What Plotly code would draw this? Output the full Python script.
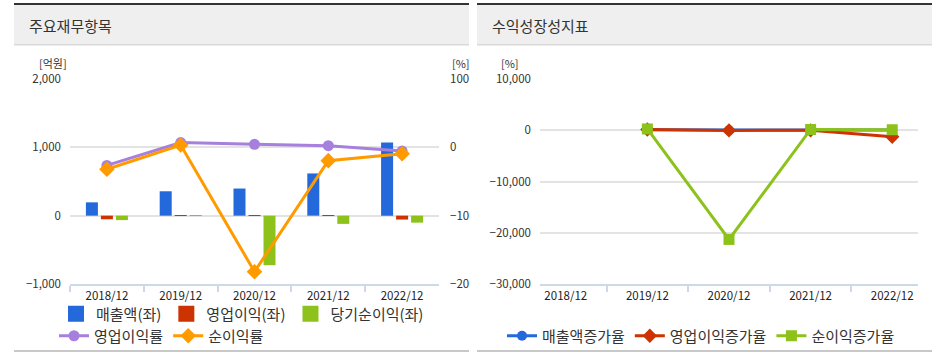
import plotly.graph_objects as go

W, H = 943, 361

# ---------------- data ----------------
years = ["2018/12", "2019/12", "2020/12", "2021/12", "2022/12"]
sales = [195, 357, 397, 618, 1069]            # 매출액 (억원)
op_income = [-53, 8, 6, 2, -57]               # 영업이익 (억원)
net_income = [-65, 3, -725, -120, -102]       # 당기순이익 (억원)
op_margin = [-26.5, 6.9, 4.4, 2.5, -5.4]      # 영업이익률 (%)
net_margin = [-32.0, 3.4, -182.0, -19.5, -9.3]  # 순이익률 (%)

sales_growth = [None, 83, 11, 56, 73]          # 매출액증가율 (%)
op_growth = [None, 150, -32, -12, -1290]       # 영업이익증가율 (%)
net_growth = [None, 250, -21300, 150, 100]     # 순이익증가율 (%)

C_BLUE = "#2469dc"
C_RED = "#cc3300"
C_GREEN = "#8cc21a"
C_PURPLE = "#a77fdd"
C_ORANGE = "#ff9a00"
TXT = "#333333"
FONT = "Noto Sans CJK KR"


def px_x(p):
    return p / W


def px_y(p):
    return 1 - p / H


fig = go.Figure()

# ---------------- left chart: bars ----------------
for name, vals, col in [("매출액(좌)", sales, C_BLUE),
                        ("영업이익(좌)", op_income, C_RED),
                        ("당기순이익(좌)", net_income, C_GREEN)]:
    fig.add_trace(go.Bar(x=years, y=vals, name=name, marker_color=col,
                         marker_line_width=0, xaxis="x", yaxis="y",
                         showlegend=False))
    # legend entry with a larger square symbol
    fig.add_trace(go.Scatter(x=[None], y=[None], mode="markers", name=name,
                             marker=dict(symbol="square", size=16, color=col),
                             xaxis="x", yaxis="y", legend="legend"))

# ---------------- left chart: margin lines ----------------
fig.add_trace(go.Scatter(x=years, y=op_margin, name="영업이익률", mode="lines+markers",
                         line=dict(color=C_PURPLE, width=3),
                         marker=dict(symbol="circle", size=11, color=C_PURPLE),
                         xaxis="x", yaxis="y2", legend="legend2"))
fig.add_trace(go.Scatter(x=years, y=net_margin, name="순이익률", mode="lines+markers",
                         line=dict(color=C_ORANGE, width=3),
                         marker=dict(symbol="diamond", size=12, color=C_ORANGE),
                         xaxis="x", yaxis="y2", legend="legend2"))

# ---------------- right chart: growth lines ----------------
fig.add_trace(go.Scatter(x=years, y=sales_growth, name="매출액증가율", mode="lines+markers",
                         line=dict(color=C_BLUE, width=3),
                         marker=dict(symbol="circle", size=10, color=C_BLUE),
                         xaxis="x2", yaxis="y3", legend="legend3"))
fig.add_trace(go.Scatter(x=years, y=op_growth, name="영업이익증가율", mode="lines+markers",
                         line=dict(color=C_RED, width=3),
                         marker=dict(symbol="diamond", size=11, color=C_RED),
                         xaxis="x2", yaxis="y3", legend="legend3"))
fig.add_trace(go.Scatter(x=years, y=net_growth, name="순이익증가율", mode="lines+markers",
                         line=dict(color=C_GREEN, width=3),
                         marker=dict(symbol="square", size=11, color=C_GREEN),
                         xaxis="x2", yaxis="y3", legend="legend3"))

ydom = [px_y(284), px_y(79)]
tickfont = dict(family=FONT, size=11.5, color=TXT)
xcommon = dict(type="category", showgrid=False, showline=True, linecolor="#cdd8e8",
               linewidth=2, ticks="outside", tickson="boundaries", ticklen=6,
               tickcolor="#cdd8e8", tickwidth=2,
               tickfont=dict(family=FONT, size=11.5, color="#222"),
               fixedrange=True, automargin=False)

fig.update_layout(
    template="none",
    width=W, height=H, autosize=False,
    margin=dict(l=0, r=0, t=0, b=0, pad=0, autoexpand=False),
    paper_bgcolor="white", plot_bgcolor="white",
    font=dict(family=FONT, color=TXT),
    barmode="group", bargap=0.39, bargroupgap=0.2,
    xaxis=dict(domain=[px_x(70), px_x(439)], anchor="y", **xcommon),
    yaxis=dict(domain=ydom, range=[-1000, 2000], dtick=1000, tickformat=",",
               showgrid=True, gridcolor="#e3e3e3", gridwidth=2, zeroline=False,
               showline=False, ticks="", tickfont=tickfont, ticklabelstandoff=8,
               automargin=False, fixedrange=True),
    yaxis2=dict(overlaying="y", side="right", anchor="x", range=[-200, 100], dtick=100,
                showgrid=False, zeroline=False, showline=False, ticks="",
                tickfont=tickfont, ticklabelstandoff=10, automargin=False, fixedrange=True),
    xaxis2=dict(domain=[px_x(540), px_x(918)], anchor="y3", **xcommon),
    yaxis3=dict(domain=ydom, anchor="x2", range=[-30000, 10000], dtick=10000,
                tickformat=",", showgrid=True, gridcolor="#e3e3e3", gridwidth=2,
                zeroline=False, showline=False, ticks="", tickfont=tickfont,
                ticklabelstandoff=8, automargin=False, fixedrange=True),
    legend=dict(orientation="h", x=px_x(56), xanchor="left", y=px_y(314), yanchor="middle",
                font=dict(family=FONT, size=15, color=TXT), bgcolor="rgba(0,0,0,0)",
                itemclick=False, itemdoubleclick=False, traceorder="normal"),
    legend2=dict(orientation="h", x=px_x(54), xanchor="left", y=px_y(336), yanchor="middle",
                 font=dict(family=FONT, size=15, color=TXT), bgcolor="rgba(0,0,0,0)",
                 itemclick=False, itemdoubleclick=False, traceorder="normal"),
    legend3=dict(orientation="h", x=px_x(502), xanchor="left", y=px_y(336), yanchor="middle",
                 font=dict(family=FONT, size=15, color=TXT), bgcolor="rgba(0,0,0,0)",
                 itemclick=False, itemdoubleclick=False, traceorder="normal"),
)

shapes = []
for x0, x1 in [(14, 469), (477, 932)]:
    # header band
    shapes.append(dict(type="rect", xref="paper", yref="paper", x0=px_x(x0), x1=px_x(x1),
                       y0=px_y(44), y1=px_y(5), fillcolor="#efefef", line_width=0, layer="below"))
    # dark top strip
    shapes.append(dict(type="rect", xref="paper", yref="paper", x0=px_x(x0), x1=px_x(x1),
                       y0=px_y(5), y1=px_y(3), fillcolor="#333333", line_width=0, layer="below"))
    # header bottom border
    shapes.append(dict(type="rect", xref="paper", yref="paper", x0=px_x(x0), x1=px_x(x1),
                       y0=px_y(45.5), y1=px_y(44), fillcolor="#d9d9d9", line_width=0, layer="below"))
    # bottom gray line
    shapes.append(dict(type="rect", xref="paper", yref="paper", x0=px_x(x0), x1=px_x(x1),
                       y0=px_y(352), y1=px_y(350), fillcolor="#c8c8c8", line_width=0, layer="below"))
# clip strip between panels (cuts right-axis labels of left chart)
shapes.append(dict(type="rect", xref="paper", yref="paper", x0=px_x(469.5), x1=px_x(476.5),
                   y0=px_y(300), y1=px_y(50), fillcolor="white", line_width=0, layer="above"))
fig.update_layout(shapes=shapes)

annotations = [
    dict(text="주요재무항목", x=px_x(28), y=px_y(26), xanchor="left", yanchor="middle",
         font=dict(family=FONT, size=15, color=TXT)),
    dict(text="수익성장성지표", x=px_x(491), y=px_y(26), xanchor="left", yanchor="middle",
         font=dict(family=FONT, size=15, color=TXT)),
    dict(text="[억원]", x=px_x(53), y=px_y(63.5), xanchor="center", yanchor="middle",
         font=dict(family=FONT, size=11, color=TXT)),
    dict(text="[%]", x=px_x(451), y=px_y(63), xanchor="left", yanchor="middle",
         font=dict(family=FONT, size=11, color=TXT)),
    dict(text="[%]", x=px_x(510), y=px_y(63), xanchor="center", yanchor="middle",
         font=dict(family=FONT, size=11, color=TXT)),
]
for a in annotations:
    a.update(xref="paper", yref="paper", showarrow=False, borderpad=0)
fig.update_layout(annotations=annotations)

fig.write_html("out.html", config={"displayModeBar": False},
               post_script="document.body.style.margin='0';document.body.style.overflow='hidden';")
